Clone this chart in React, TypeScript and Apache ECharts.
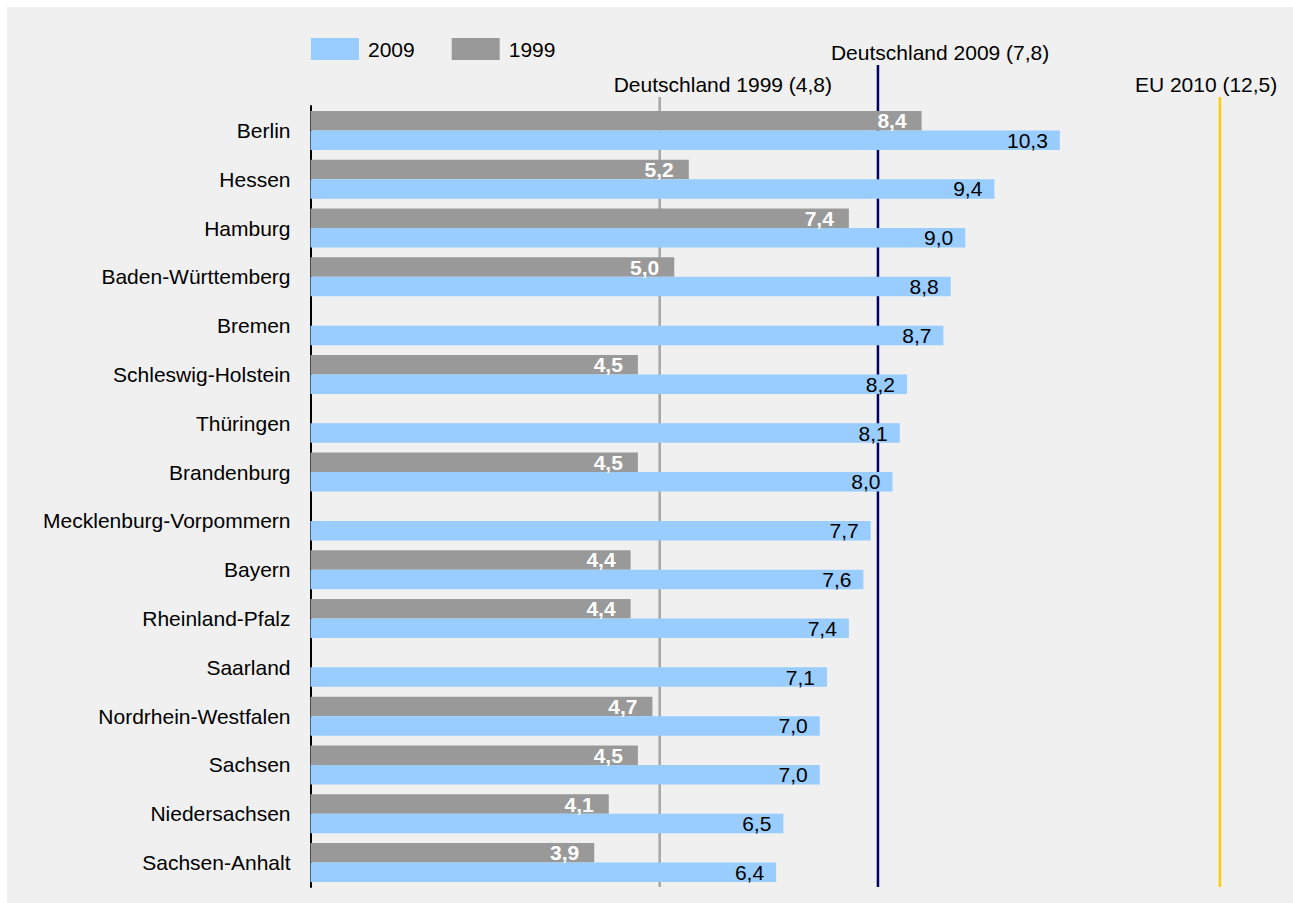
import React, { useEffect, useRef } from "react";
import * as echarts from "echarts";

const categories = [
  "Berlin", "Hessen", "Hamburg", "Baden-Württemberg", "Bremen", "Schleswig-Holstein",
  "Thüringen", "Brandenburg", "Mecklenburg-Vorpommern", "Bayern", "Rheinland-Pfalz",
  "Saarland", "Nordrhein-Westfalen", "Sachsen", "Niedersachsen", "Sachsen-Anhalt",
];
const values2009 = [10.3, 9.4, 9.0, 8.8, 8.7, 8.2, 8.1, 8.0, 7.7, 7.6, 7.4, 7.1, 7.0, 7.0, 6.5, 6.4];
const values1999 = [8.4, 5.2, 7.4, 5.0, null, 4.5, null, 4.5, null, 4.4, 4.4, null, 4.7, 4.5, 4.1, 3.9];
const refLines = [
  { value: 4.8, label: "Deutschland 1999 (4,8)", color: "#a6a6a6", top: 90, textDx: -46, textY: 77 },
  { value: 7.8, label: "Deutschland 2009 (7,8)", color: "#000066", top: 58, textDx: -47, textY: 45 },
  { value: 12.5, label: "EU 2010 (12,5)", color: "#ffcc00", top: 90, textDx: -85, textY: 77 },
];

const FONT = "Liberation Sans, Arial, sans-serif";
const FS = 21;
const fmt = (v: number) => v.toFixed(1).replace(".", ",");

export default function App() {
  const ref = useRef<HTMLDivElement>(null);
  useEffect(() => {
    if (!ref.current) return;
    const chart = echarts.init(ref.current, null, { renderer: "svg" });
    chart.setOption({
      animation: false,
      backgroundColor: "#f0f0f0",
      textStyle: { fontFamily: FONT },
      legend: {
        data: ["2009", "1999"],
        left: 299,
        top: 26,
        itemWidth: 48,
        itemHeight: 22,
        itemGap: 37,
        icon: "rect",
        textStyle: { fontSize: FS, color: "#000", fontFamily: FONT, padding: [0, 0, 0, 4] },
      },
      grid: { left: 303.5, top: 99, bottom: 16, right: 36.75 },
      xAxis: {
        type: "value",
        min: 0,
        max: 13,
        show: false,
      },
      yAxis: {
        type: "category",
        data: categories,
        inverse: true,
        zlevel: 1,
        axisLine: { show: true, lineStyle: { color: "#000", width: 2 } },
        axisTick: { show: false },
        axisLabel: { fontSize: FS, color: "#000", fontFamily: FONT, margin: 20 },
      },
      series: [
        {
          name: "1999",
          type: "bar",
          data: values1999,
          barGap: "0%",
          barCategoryGap: "20%",
          zlevel: 1,
          itemStyle: { color: "#999999" },
          label: {
            show: true,
            position: "insideRight",
            distance: 15,
            color: "#fff",
            fontWeight: "bold",
            fontSize: FS,
            fontFamily: FONT,
            formatter: (p: any) => fmt(p.value),
          },
        },
        {
          name: "2009",
          type: "bar",
          data: values2009,
          barGap: "0%",
          barCategoryGap: "20%",
          zlevel: 1,
          itemStyle: { color: "#99ccff" },
          label: {
            show: true,
            position: "insideRight",
            distance: 12,
            color: "#000",
            fontSize: FS,
            fontFamily: FONT,
            formatter: (p: any) => fmt(p.value),
          },
        },
      ],
    });
    const bottomY = 880;
    const graphics: any[] = [];
    refLines.forEach((r) => {
      const x = chart.convertToPixel({ xAxisIndex: 0 }, r.value) as number;
      graphics.push({
        type: "line",
        shape: { x1: x, y1: r.top, x2: x, y2: bottomY },
        style: { stroke: r.color, lineWidth: 2.5 },
        zlevel: 0,
        z: 0,
      });
      graphics.push({
        type: "text",
        x: x + r.textDx,
        y: r.textY,
        style: {
          text: r.label,
          fill: "#000",
          fontSize: FS,
          fontFamily: FONT,
          verticalAlign: "middle",
        },
        zlevel: 1,
      });
    });
    chart.setOption({ graphic: graphics });
    return () => chart.dispose();
  }, []);
  return (
    <div
      ref={ref}
      style={{ position: "absolute", left: 7, top: 7, width: 1286, height: 896 }}
    />
  );
}
